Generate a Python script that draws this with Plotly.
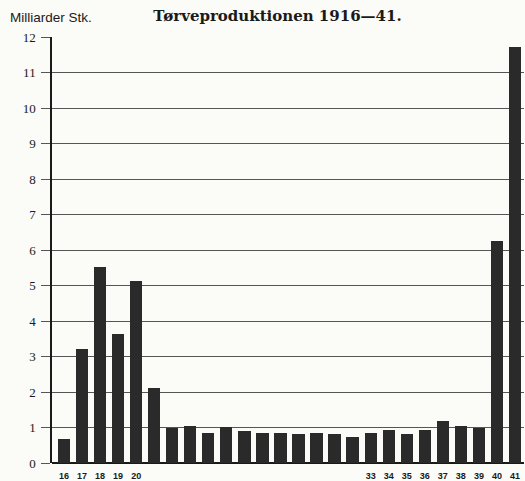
import plotly.graph_objects as go

years = list(range(1916, 1942))
values = [0.68, 3.2, 5.53, 3.63, 5.14, 2.12, 0.98, 1.04, 0.84, 1.02, 0.91, 0.84,
          0.84, 0.81, 0.85, 0.83, 0.74, 0.84, 0.93, 0.82, 0.93, 1.19, 1.05, 0.99,
          6.26, 11.73]
shown_labels = {1916: "16", 1917: "17", 1918: "18", 1919: "19", 1920: "20",
                1933: "33", 1934: "34", 1935: "35", 1936: "36", 1937: "37",
                1938: "38", 1939: "39", 1940: "40", 1941: "41"}
x_ticktext = [shown_labels.get(y, "") for y in years]
y_ticks = list(range(0, 13))

W, H = 525, 481
L, R, T, B = 52, 1, 37, 18
PW, PH = W - L - R, H - T - B

bg = "#fbfbf8"
fig = go.Figure()
fig.add_trace(go.Bar(x=years, y=values, width=0.68,
                     marker=dict(color="#2a2a2a", line=dict(width=0))))

fig.update_layout(
    width=W, height=H,
    margin=dict(l=L, r=R, t=T, b=B, autoexpand=False),
    paper_bgcolor=bg, plot_bgcolor=bg,
    showlegend=False,
    title=dict(text="<b>Tørveproduktionen 1916—41.</b>", x=277.5 / W, xanchor="center",
               y=1 - 16 / H, yanchor="middle",
               font=dict(family="DejaVu Serif", size=15, color="#1a1a1a")),
    xaxis=dict(range=[1915.335, 1941.5], tickvals=years, ticktext=x_ticktext,
               showgrid=False, zeroline=False, showline=False, ticks="",
               automargin=False, ticklabelstandoff=6,
               tickfont=dict(family="Liberation Sans", size=9, color="#1a1a1a",
                             weight="bold")),
    yaxis=dict(range=[0, 12], tickvals=y_ticks, showgrid=True,
               gridcolor="#555555", gridwidth=1, zeroline=True,
               zerolinecolor="#1a1a1a", zerolinewidth=2,
               showline=True, linecolor="#1a1a1a", linewidth=1.5,
               ticks="outside", ticklen=9, tickcolor="#555555", tickwidth=1,
               automargin=False, ticklabelstandoff=3,
               tickfont=dict(family="Liberation Serif", size=13, color="#1a1a1a")),
    bargap=0,
)
fig.add_annotation(text="Milliarder Stk.", xref="paper", yref="paper",
                   x=-(L - 8) / PW, xanchor="left", y=1 + (T - 18) / PH, yanchor="middle",
                   showarrow=False,
                   font=dict(family="Liberation Sans", size=13.5, color="#1a1a1a"))
fig.write_html("out.html", config={"displayModeBar": False},
               post_script="document.body.style.margin='0';document.body.style.overflow='hidden';")
